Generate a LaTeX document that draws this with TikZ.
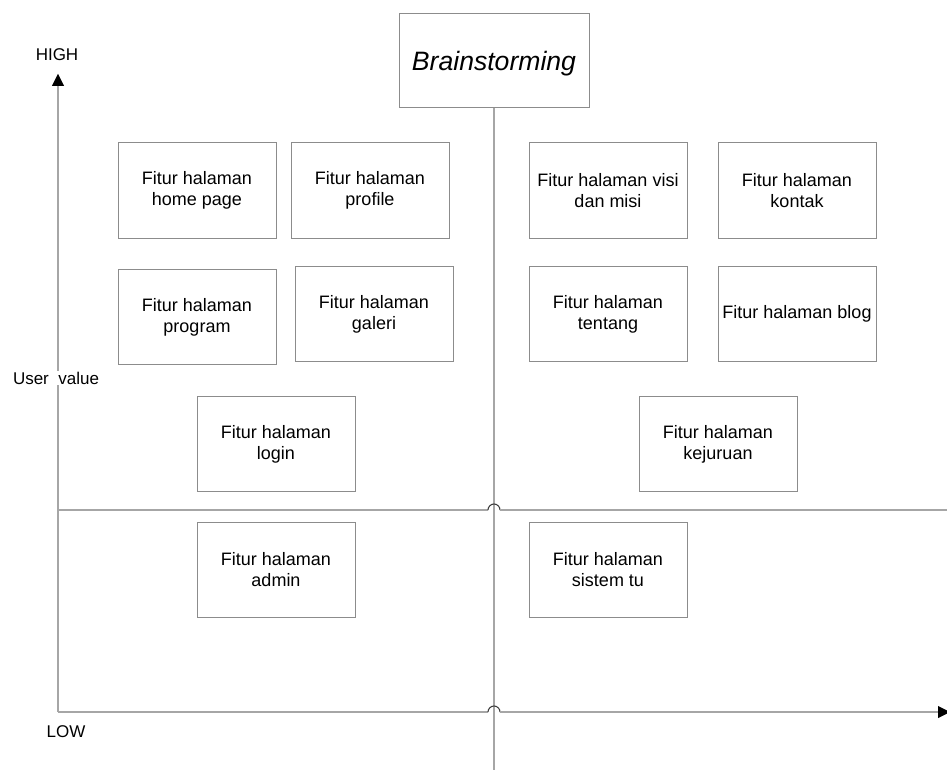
\documentclass[tikz,border=0pt]{standalone}
\usepackage{fontspec}
\setmainfont{Liberation Sans}
\usetikzlibrary{arrows.meta}
\definecolor{boxgray}{HTML}{8C8C8C}
\definecolor{axisgray}{HTML}{A6A6A6}
\definecolor{hopgray}{HTML}{404040}
\begin{document}
\begin{tikzpicture}[x=1pt,y=-1pt,
  feature/.style={draw=boxgray, line width=1pt, fill=white, minimum width=158pt,
    minimum height=95pt, inner sep=0pt, align=center,
    font=\fontsize{18}{21}\selectfont},
  title/.style={draw=boxgray, line width=1pt, fill=white, minimum width=190pt,
    minimum height=94pt, inner sep=0pt, font=\fontsize{26.6}{30}\selectfont\itshape},
  axislabel/.style={inner sep=1pt, fill=white, font=\fontsize{17}{20}\selectfont},
  axisline/.style={draw=axisgray, line width=1.1pt},
  hop/.style={draw=hopgray, line width=1.1pt},
  tip/.style={-{Triangle[width=12pt,length=12pt]}, draw=axisgray, line width=1.1pt},
]
\useasboundingbox (0,0) rectangle (947,770);

% axes and quadrant lines
\coordinate (origin) at (58,712);
\coordinate (ytop) at (58,74);
\coordinate (xend) at (950,712);
\coordinate (midL) at (58,510);
\coordinate (midR) at (947,510);
\coordinate (vbot) at (494,770);

\node[title] (brain) at (494,61) {\raisebox{-3pt}[\height][\depth]{Brainstorming}};

% vertical divider
\draw[axisline] (brain.south) -- (vbot);

% middle horizontal divider with a hop over the divider
\draw[axisline] (midL) -- (488,510);
\draw[hop] (488,510) arc[start angle=180, end angle=360, radius=6];
\draw[axisline] (500,510) -- (midR);

% horizontal axis with a hop
\draw[axisline] (origin) -- (488,712);
\draw[hop] (488,712) arc[start angle=180, end angle=360, radius=6];
\draw[tip] (500,712) -- (xend);
\fill[black] (xend) -- ++(-12,-6) -- ++(0,12) -- cycle;

% vertical axis
\draw[tip] (origin) -- (ytop);
\fill[black] (ytop) -- ++(-6,12) -- ++(12,0) -- cycle;

\node[axislabel] (high) at (57,55) {HIGH};
\node[axislabel] (uval) at (56,378) {User~~value};
\node[axislabel] (low) at (66,732) {LOW};

% feature boxes
\node[feature] (home) at (197,190.5) {Fitur halaman\\home page};
\node[feature] (profile) at (370,190.5) {Fitur halaman\\profile};
\node[feature] (visi) at (608,190.5) {Fitur halaman visi\\dan misi};
\node[feature] (kontak) at (797,190.5) {Fitur halaman\\kontak};
\node[feature] (program) at (197,317) {Fitur halaman\\program};
\node[feature] (galeri) at (374,314) {Fitur halaman\\galeri};
\node[feature] (tentang) at (608,314) {Fitur halaman\\tentang};
\node[feature] (blog) at (797,314) {Fitur halaman blog};
\node[feature] (login) at (276,444) {Fitur halaman\\login};
\node[feature] (kejuruan) at (718,444) {Fitur halaman\\kejuruan};
\node[feature] (admin) at (276,570) {Fitur halaman\\admin};
\node[feature] (sistem) at (608,570) {Fitur halaman\\sistem tu};
\end{tikzpicture}
\end{document}
